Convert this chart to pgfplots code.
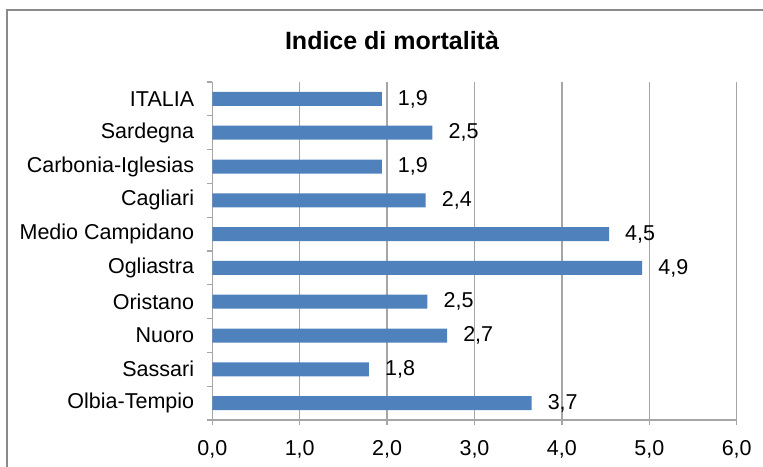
\documentclass[border=0pt]{standalone}
\usepackage{fontspec}
\setmainfont{Liberation Sans}
\usepackage{pgfplots}
\pgfplotsset{compat=1.18}
\definecolor{barblue}{HTML}{4F81BD}
\definecolor{gridgray}{HTML}{A6A6A6}
\definecolor{framegray}{HTML}{8A8A8A}
\begin{document}
\begin{tikzpicture}[x=1pt,y=1pt]
\useasboundingbox (0pt,0pt) rectangle (763pt,466pt);
\draw[framegray, line width=2pt] (7pt,-5pt) -- (7pt,456pt) -- (775pt,456pt);
\node[font=\fontsize{25}{29}\selectfont\bfseries, anchor=base, inner sep=0pt] at (392pt,416pt) {Indice di mortalità};
\begin{axis}[
  at={(212.3pt,46pt)}, anchor=south west,
  scale only axis, width=524.4pt, height=338pt,
  xbar, bar width=14pt,
  xmin=0, xmax=6, xtick={0,1,...,6},
  ymin=-0.5, ymax=9.5, y dir=reverse,
  ytick={0,...,9},
  yticklabels={ITALIA,Sardegna,Carbonia-Iglesias,Cagliari,Medio Campidano,Ogliastra,Oristano,Nuoro,Sassari,Olbia-Tempio},
  minor ytick={-0.5,0.5,...,9.5},
  axis lines*=left,
  axis line style={gridgray, line width=1.3pt},
  xmajorgrids, grid style={gridgray, line width=1.3pt},
  tick align=outside,
  major tick length=5pt, minor tick length=5pt,
  x tick style={gridgray, line width=1.3pt},
  major y tick style={draw=none},
  minor y tick style={gridgray, line width=1.3pt},
  /pgf/number format/assume math mode=true,
  tick label style={font=\fontsize{21.5}{25}\selectfont, inner sep=0pt},
  xticklabel={\pgfmathprintnumber[fixed,fixed zerofill,precision=1,use comma,assume math mode=true]{\tick}},
  xticklabel style={anchor=north, yshift=-15pt},
  yticklabel style={anchor=east, xshift=-13pt},
  clip=false,
]
\addplot[fill=barblue, draw=none, point meta=x,
  nodes near coords={\pgfmathprintnumber[fixed,fixed zerofill,precision=1,use comma,assume math mode=true]{\pgfplotspointmeta}},
  every node near coord/.append style={font=\fontsize{21.5}{25}\selectfont, anchor=west, inner sep=0pt, xshift=16pt, black}]
coordinates {
(1.939,0)
(2.518,1)
(1.939,2)
(2.441,3)
(4.539,4)
(4.918,5)
(2.461,6)
(2.686,7)
(1.792,8)
(3.653,9)
};
\end{axis}
\end{tikzpicture}
\end{document}
